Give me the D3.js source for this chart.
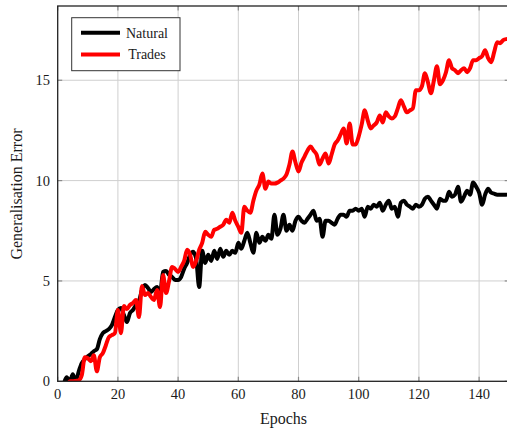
<!DOCTYPE html>
<html>
<head>
<meta charset="utf-8">
<script src="https://cdn.jsdelivr.net/npm/d3@7"></script>
<style>
  html, body { margin: 0; padding: 0; background: #fff; }
  svg { display: block; }
  text { font-family: "Liberation Serif", "DejaVu Serif", serif; fill: #1a1a1a; }
</style>
</head>
<body>
<svg id="chart" width="507" height="431"></svg>
<script>
// ---- data ----
const epochs = d3.range(0, 150);
const naturalError = [
  -0.6, -0.4, -0.1, 0.2, -0.05, 0.35, 0.0, 0.5, 0.9, 1.1,
  1.25, 1.35, 1.5, 1.6, 2.1, 2.4, 2.5, 2.6, 2.8, 3.2,
  3.55, 3.65, 3.3, 2.95, 3.4, 3.55, 3.8, 4.0, 4.55, 4.8,
  4.65, 4.45, 4.6, 4.7, 4.35, 5.45, 5.5, 5.3, 5.2, 5.05,
  5.05, 5.2, 5.6, 5.9, 6.3, 6.45, 6.1, 4.7, 6.5, 5.9,
  6.3, 6.0, 6.5, 6.1, 6.6, 6.2, 6.5, 6.3, 6.5, 6.4,
  6.9, 6.6, 7.0, 7.4, 6.9, 6.4, 7.4, 6.9, 7.2, 7.0,
  7.3, 7.1, 8.3, 7.3, 7.6, 8.3, 7.5, 7.8, 7.5, 8.0,
  8.2, 8.0, 7.9, 8.1, 8.3, 8.5, 8.0, 8.1, 7.2, 8.0,
  8.0, 7.9, 7.8, 8.1, 8.3, 8.3, 8.2, 8.5, 8.5, 8.6,
  8.5, 8.6, 8.2, 8.7, 8.6, 8.8, 8.7, 8.9, 8.5, 8.8,
  9.0, 8.6, 8.7, 8.2, 8.9, 9.0, 8.8, 8.7, 8.6, 8.8,
  8.7, 8.8, 9.1, 9.2, 9.0, 8.8, 8.6, 9.1, 9.0, 9.0,
  9.45, 9.2, 9.3, 9.7, 8.95, 9.2, 9.5, 9.3, 9.9, 9.7,
  9.4, 8.8, 9.3, 9.6, 9.4, 9.35, 9.3, 9.3, 9.3, 9.3
];
const tradesError = [
  -1.0, -0.8, -0.6, -0.3, 0.0, 0.0, 0.02, 0.05, 0.3, 1.2,
  1.15, 1.0, 1.3, 0.5, 1.2, 1.4, 1.8, 2.2, 2.3, 2.4,
  3.55, 2.4, 3.75, 3.6, 3.8, 3.9, 4.05, 3.2, 4.75, 4.3,
  4.4, 4.2, 4.05, 4.55, 3.7, 5.3, 4.4, 5.0, 5.7, 5.6,
  5.45, 5.7, 6.0, 6.55, 6.3, 5.7, 6.0, 6.55, 6.9, 7.45,
  7.3, 7.2, 7.55, 7.6, 7.7, 7.8, 8.05, 7.9, 8.4, 8.0,
  7.7, 7.4, 8.7, 8.5, 8.4, 9.0, 9.5, 9.8, 10.35, 9.6,
  9.95, 9.85, 9.85, 9.9, 10.0, 10.1, 10.3, 10.8, 11.45, 10.9,
  10.45, 10.9, 11.2, 11.5, 11.7, 11.5, 11.3, 10.8, 11.1, 11.35,
  10.85, 11.3, 11.8, 12.0, 12.3, 12.6, 11.85, 12.85, 11.8, 11.8,
  12.2, 12.8, 13.5, 13.0, 12.6, 12.75, 12.9, 13.25, 12.9, 13.4,
  13.2, 13.1, 13.2, 13.6, 14.0, 13.7, 13.4, 13.5, 13.6, 14.5,
  14.5, 14.7, 15.35, 14.9, 14.35, 15.0, 15.7, 14.8, 15.0, 15.4,
  16.0, 15.6, 15.5, 15.35, 15.5, 15.6, 15.4, 15.6, 16.0, 16.0,
  16.1, 16.2, 16.5, 16.1, 15.9, 16.4, 16.9, 16.85, 17.0, 17.05
];
const xTicks = [0, 20, 40, 60, 80, 100, 120, 140];
const yTicks = [0, 5, 10, 15];
const seriesNames = ["Natural", "Trades"];
const seriesColors = ["#000000", "#ff0000"];

// ---- layout ----
const svg = d3.select("#chart");
const pL = 57.7, pR = 509.2, pT = 6, pB = 381.3;
const x = d3.scaleLinear().domain([0, 150]).range([pL, pR]);
const y = d3.scaleLinear().domain([0, 18.7]).range([pB, pT]);

// grid
const grid = svg.append("g");
grid.selectAll("line.gx").data(xTicks.filter(d => d > 0)).join("line")
  .attr("x1", d => x(d)).attr("x2", d => x(d))
  .attr("y1", pT).attr("y2", pB)
  .attr("stroke", "#cfcfcf").attr("stroke-width", 1);
grid.selectAll("line.gy").data(yTicks.filter(d => d > 0)).join("line")
  .attr("x1", pL).attr("x2", pR)
  .attr("y1", d => y(d)).attr("y2", d => y(d))
  .attr("stroke", "#cfcfcf").attr("stroke-width", 1);

// tick marks (inside, all four sides)
const tk = svg.append("g").attr("stroke", "#8a8a8a").attr("stroke-width", 1.2);
xTicks.forEach(d => {
  tk.append("line").attr("x1", x(d)).attr("x2", x(d)).attr("y1", pB).attr("y2", pB - 4.5);
  tk.append("line").attr("x1", x(d)).attr("x2", x(d)).attr("y1", pT).attr("y2", pT + 4.5);
});
yTicks.forEach(d => {
  tk.append("line").attr("x1", pL).attr("x2", pL + 4.5).attr("y1", y(d)).attr("y2", y(d));
  tk.append("line").attr("x1", pR).attr("x2", pR - 4.5).attr("y1", y(d)).attr("y2", y(d));
});

// clip
svg.append("clipPath").attr("id", "plotclip").append("rect")
  .attr("x", pL).attr("y", pT).attr("width", pR - pL).attr("height", pB - pT);

const line = d3.line().x((d, i) => x(epochs[i])).y(d => y(d)).curve(d3.curveMonotoneX);
const plot = svg.append("g").attr("clip-path", "url(#plotclip)");
[naturalError, tradesError].forEach((vals, k) => {
  plot.append("path").datum(vals)
    .attr("d", line)
    .attr("fill", "none")
    .attr("stroke", seriesColors[k])
    .attr("stroke-width", 4)
    .attr("stroke-linejoin", "round")
    .attr("stroke-linecap", "round");
});

// frame
svg.append("rect").attr("x", pL).attr("y", pT)
  .attr("width", pR - pL).attr("height", pB - pT)
  .attr("fill", "none").attr("stroke", "#222").attr("stroke-width", 1.3);

// tick labels
const axisText = svg.append("g").style("font-size", "14.5px");
axisText.selectAll("text.xl").data(xTicks).join("text")
  .attr("x", d => x(d)).attr("y", 399)
  .attr("text-anchor", "middle").text(d => d);
axisText.selectAll("text.yl").data(yTicks).join("text")
  .attr("x", 50).attr("y", d => y(d) + 5)
  .attr("text-anchor", "end").text(d => d);

// axis labels
svg.append("text").attr("x", x(75)).attr("y", 424)
  .attr("text-anchor", "middle").style("font-size", "16px").text("Epochs");
svg.append("text")
  .attr("transform", "translate(21.5,194) rotate(-90)")
  .attr("text-anchor", "middle").style("font-size", "16px").text("Generalisation Error");

// legend
const lg = svg.append("g");
lg.append("rect").attr("x", 71.7).attr("y", 17.7).attr("width", 108.3).attr("height", 53)
  .attr("fill", "#fff").attr("stroke", "#333").attr("stroke-width", 1);
seriesNames.forEach((name, k) => {
  const yy = k === 0 ? 32.7 : 54.5;
  lg.append("line").attr("x1", 81).attr("x2", 120).attr("y1", yy).attr("y2", yy)
    .attr("stroke", seriesColors[k]).attr("stroke-width", 4);
  lg.append("text").attr("x", 147).attr("y", yy + 4.8)
    .attr("text-anchor", "middle").style("font-size", "14px").text(name);
});
</script>
</body>
</html>
